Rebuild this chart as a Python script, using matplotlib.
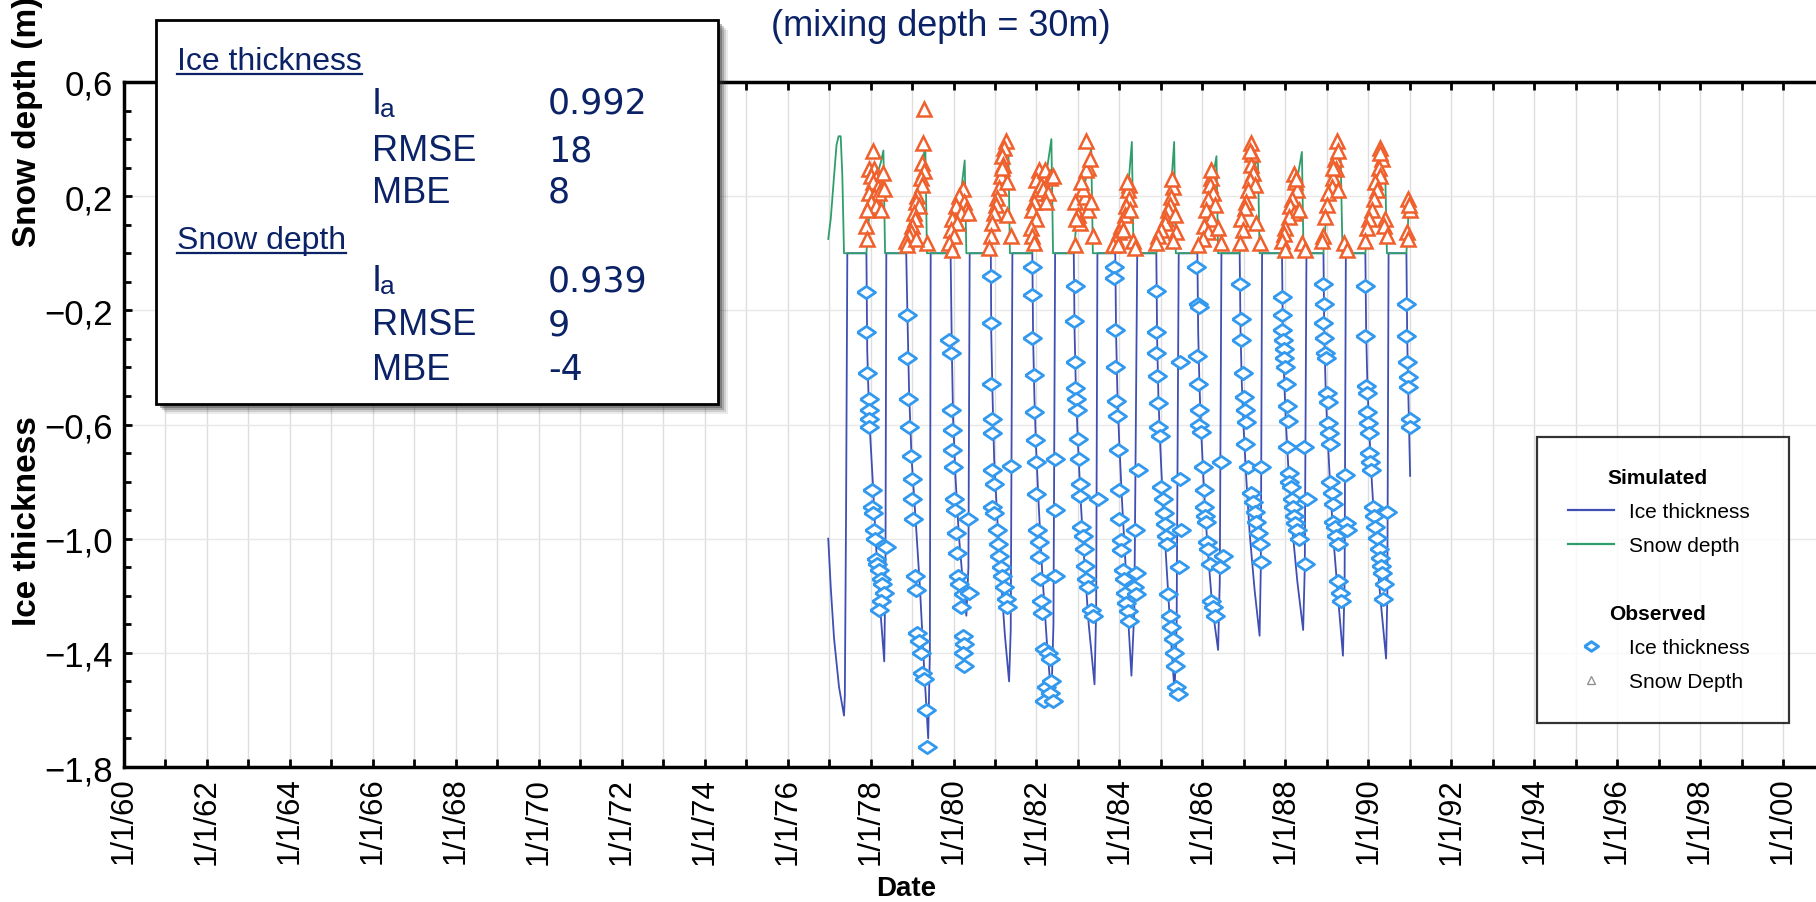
import matplotlib
matplotlib.use("Agg")
import matplotlib.pyplot as plt
from matplotlib.lines import Line2D
from matplotlib.patches import Rectangle
from matplotlib.ticker import FixedLocator, MultipleLocator, FuncFormatter

plt.rcParams['font.family'] = ['Liberation Sans', 'DejaVu Sans']
plt.rcParams['axes.unicode_minus'] = False

# ---- data (decimal year, metres) ----
sim_ice = [
    (1976.98, -1.00), (1977.04, -1.17), (1977.12, -1.35), (1977.24, -1.52), (1977.36, -1.62),
    (1977.38, -1.55), (1977.41, -0.90), (1977.44, 0.0),
    (1977.90, 0.0), (1977.92, -0.34), (1977.95, -0.49), (1977.98, -0.61), (1978.05, -0.79),
    (1978.13, -1.02), (1978.22, -1.22), (1978.33, -1.43), (1978.36, -1.10), (1978.38, 0.0),
    (1978.86, 0.0), (1978.89, -0.22), (1978.93, -0.49), (1978.99, -0.72), (1979.09, -0.94),
    (1979.19, -1.17), (1979.29, -1.45), (1979.39, -1.70), (1979.43, -1.40), (1979.45, 0.0),
    (1979.93, 0.0), (1979.96, -0.34), (1979.99, -0.58), (1980.05, -0.79), (1980.13, -0.99),
    (1980.23, -1.16), (1980.31, -1.27), (1980.36, -1.10), (1980.39, 0.0),
    (1980.90, 0.0), (1980.91, -0.28), (1980.94, -0.49), (1980.98, -0.72), (1981.06, -0.94),
    (1981.14, -1.13), (1981.24, -1.34), (1981.34, -1.50), (1981.38, -1.32), (1981.42, 0.0),
    (1981.90, 0.0), (1981.92, -0.30), (1981.95, -0.50), (1981.99, -0.68), (1982.06, -0.90),
    (1982.14, -1.12), (1982.25, -1.36), (1982.36, -1.56), (1982.41, -1.30), (1982.45, 0.0),
    (1982.90, 0.0), (1982.92, -0.28), (1982.95, -0.47), (1982.99, -0.63), (1983.06, -0.85),
    (1983.14, -1.05), (1983.26, -1.30), (1983.40, -1.51), (1983.44, -1.25), (1983.47, 0.0),
    (1983.90, 0.0), (1983.92, -0.28), (1983.95, -0.48), (1983.99, -0.64), (1984.06, -0.86),
    (1984.14, -1.07), (1984.22, -1.30), (1984.29, -1.48), (1984.36, -1.25), (1984.43, 0.0),
    (1984.89, 0.0), (1984.91, -0.30), (1984.94, -0.50), (1984.98, -0.66), (1985.05, -0.88),
    (1985.13, -1.08), (1985.23, -1.32), (1985.33, -1.54), (1985.38, -1.30), (1985.43, 0.0),
    (1985.88, 0.0), (1985.90, -0.28), (1985.93, -0.46), (1985.97, -0.62), (1986.04, -0.83),
    (1986.12, -1.02), (1986.24, -1.24), (1986.38, -1.39), (1986.42, -1.15), (1986.46, 0.0),
    (1986.90, 0.0), (1986.92, -0.27), (1986.95, -0.45), (1986.99, -0.60), (1987.06, -0.79),
    (1987.14, -0.98), (1987.26, -1.18), (1987.38, -1.34), (1987.41, -1.10), (1987.44, 0.0),
    (1987.92, 0.0), (1987.94, -0.26), (1987.97, -0.43), (1988.01, -0.58), (1988.08, -0.77),
    (1988.16, -0.95), (1988.29, -1.15), (1988.43, -1.32), (1988.47, -1.10), (1988.51, 0.0),
    (1988.92, 0.0), (1988.94, -0.28), (1988.97, -0.46), (1989.01, -0.61), (1989.08, -0.81),
    (1989.16, -1.00), (1989.28, -1.22), (1989.39, -1.41), (1989.43, -1.15), (1989.46, 0.0),
    (1989.93, 0.0), (1989.95, -0.28), (1989.98, -0.46), (1990.02, -0.61), (1990.09, -0.81),
    (1990.17, -1.00), (1990.30, -1.22), (1990.43, -1.42), (1990.46, -1.20), (1990.49, 0.0),
    (1990.92, 0.0), (1990.94, -0.30), (1990.97, -0.52), (1991.01, -0.78),
]

sim_snow = [
    (1976.98, 0.05), (1977.04, 0.12), (1977.12, 0.27), (1977.18, 0.38), (1977.23, 0.41),
    (1977.28, 0.41), (1977.32, 0.27), (1977.36, 0.0),
    (1977.90, 0.0), (1977.96, 0.12), (1978.05, 0.22), (1978.15, 0.27), (1978.25, 0.32), (1978.31, 0.36), (1978.35, 0.0),
    (1978.86, 0.0), (1978.93, 0.06), (1979.03, 0.12), (1979.13, 0.20), (1979.23, 0.29), (1979.32, 0.38), (1979.36, 0.0),
    (1979.93, 0.0), (1979.99, 0.08), (1980.07, 0.14), (1980.17, 0.20), (1980.27, 0.325), (1980.31, 0.0),
    (1980.90, 0.0), (1980.98, 0.13), (1981.06, 0.20), (1981.14, 0.27), (1981.22, 0.34), (1981.32, 0.395), (1981.36, 0.0),
    (1981.90, 0.0), (1981.96, 0.14), (1982.04, 0.22), (1982.14, 0.26), (1982.26, 0.30), (1982.36, 0.40), (1982.40, 0.0),
    (1982.90, 0.0), (1982.96, 0.10), (1983.06, 0.17), (1983.16, 0.24), (1983.26, 0.31), (1983.32, 0.37), (1983.36, 0.0),
    (1983.90, 0.0), (1983.96, 0.04), (1984.06, 0.10), (1984.16, 0.18), (1984.24, 0.28), (1984.30, 0.39), (1984.34, 0.0),
    (1984.89, 0.0), (1984.96, 0.06), (1985.06, 0.10), (1985.16, 0.16), (1985.26, 0.26), (1985.32, 0.39), (1985.36, 0.0),
    (1985.88, 0.0), (1985.96, 0.05), (1986.06, 0.10), (1986.16, 0.20), (1986.26, 0.27), (1986.34, 0.34), (1986.38, 0.0),
    (1986.90, 0.0), (1986.96, 0.08), (1987.04, 0.16), (1987.14, 0.26), (1987.24, 0.30), (1987.34, 0.33), (1987.38, 0.0),
    (1987.92, 0.0), (1987.98, 0.06), (1988.08, 0.13), (1988.18, 0.20), (1988.30, 0.27), (1988.40, 0.355), (1988.44, 0.0),
    (1988.92, 0.0), (1988.98, 0.12), (1989.06, 0.20), (1989.16, 0.27), (1989.26, 0.33), (1989.33, 0.37), (1989.38, 0.0),
    (1989.93, 0.0), (1989.99, 0.09), (1990.09, 0.15), (1990.19, 0.22), (1990.31, 0.27), (1990.41, 0.28), (1990.45, 0.0),
    (1990.92, 0.0), (1990.95, 0.08), (1990.98, 0.17), (1991.01, 0.195),
]

obs_ice = [
    (1977.90, -0.135), (1977.90, -0.275), (1977.92, -0.42), (1977.96, -0.51), (1977.96, -0.55),
    (1977.96, -0.58), (1977.96, -0.61), (1978.03, -0.83), (1978.04, -0.89), (1978.06, -0.91),
    (1978.08, -0.97), (1978.10, -1.00), (1978.12, -1.07), (1978.16, -1.09), (1978.20, -1.11),
    (1978.24, -1.14), (1978.28, -1.16), (1978.32, -1.19), (1978.24, -1.22), (1978.20, -1.25), (1978.37, -1.03),
    (1978.89, -0.215), (1978.89, -0.367), (1978.91, -0.51), (1978.93, -0.61), (1978.97, -0.71),
    (1978.99, -0.79), (1979.01, -0.86), (1979.03, -0.93), (1979.07, -1.13), (1979.09, -1.18),
    (1979.13, -1.33), (1979.17, -1.36), (1979.21, -1.40), (1979.25, -1.47), (1979.29, -1.49),
    (1979.33, -1.60), (1979.37, -1.73),
    (1979.89, -0.305), (1979.93, -0.35), (1979.93, -0.55), (1979.97, -0.62), (1979.97, -0.69),
    (1979.99, -0.75), (1980.01, -0.86), (1980.04, -0.90), (1980.05, -0.98), (1980.09, -1.05),
    (1980.12, -1.13), (1980.13, -1.16), (1980.22, -1.195), (1980.18, -1.24), (1980.34, -0.93),
    (1980.38, -1.19), (1980.22, -1.34), (1980.26, -1.37), (1980.22, -1.40), (1980.26, -1.445),
    (1980.90, -0.078), (1980.90, -0.245), (1980.90, -0.458), (1980.92, -0.58), (1980.94, -0.63),
    (1980.94, -0.76), (1980.98, -0.81), (1980.94, -0.89), (1980.98, -0.91), (1981.06, -0.97),
    (1981.08, -1.02), (1981.10, -1.06), (1981.14, -1.10), (1981.18, -1.13), (1981.22, -1.17),
    (1981.26, -1.21), (1981.30, -1.24), (1981.38, -0.745),
    (1981.90, -0.047), (1981.90, -0.146), (1981.90, -0.298), (1981.94, -0.427), (1981.94, -0.556),
    (1981.97, -0.655), (1981.98, -0.73), (1981.98, -0.845), (1982.02, -0.97), (1982.05, -1.01),
    (1982.06, -1.065), (1982.08, -1.14), (1982.10, -1.22), (1982.14, -1.26), (1982.18, -1.385),
    (1982.22, -1.52), (1982.18, -1.57), (1982.44, -0.72), (1982.44, -0.90), (1982.44, -1.13),
    (1982.28, -1.40), (1982.32, -1.42), (1982.36, -1.50), (1982.33, -1.54), (1982.40, -1.57),
    (1982.92, -0.116), (1982.90, -0.237), (1982.92, -0.38), (1982.94, -0.473), (1982.96, -0.51),
    (1982.98, -0.55), (1983.00, -0.65), (1983.02, -0.72), (1983.04, -0.81), (1983.06, -0.85),
    (1983.08, -0.96), (1983.12, -0.99), (1983.14, -1.035), (1983.16, -1.095), (1983.20, -1.14),
    (1983.24, -1.17), (1983.32, -1.25), (1983.36, -1.27), (1983.48, -0.86),
    (1983.88, -0.047), (1983.88, -0.085), (1983.90, -0.268), (1983.90, -0.40), (1983.92, -0.518),
    (1983.95, -0.57), (1983.96, -0.69), (1983.98, -0.83), (1984.00, -0.93), (1984.03, -1.005),
    (1984.04, -1.04), (1984.08, -1.11), (1984.11, -1.14), (1984.13, -1.19), (1984.17, -1.225),
    (1984.21, -1.255), (1984.22, -1.29), (1984.45, -0.76), (1984.37, -0.97), (1984.41, -1.12),
    (1984.35, -1.17), (1984.41, -1.195),
    (1984.89, -0.131), (1984.89, -0.275), (1984.89, -0.35), (1984.91, -0.43), (1984.93, -0.526),
    (1984.93, -0.61), (1984.97, -0.64), (1985.01, -0.82), (1985.05, -0.86), (1985.07, -0.91),
    (1985.11, -0.95), (1985.13, -0.99), (1985.15, -1.02), (1985.17, -1.195), (1985.21, -1.27),
    (1985.25, -1.31), (1985.29, -1.35), (1985.32, -1.40), (1985.33, -1.445), (1985.37, -1.52),
    (1985.41, -1.545), (1985.45, -0.38), (1985.45, -0.79), (1985.48, -0.97), (1985.43, -1.10),
    (1985.85, -0.047), (1985.89, -0.177), (1985.91, -0.19), (1985.88, -0.36), (1985.89, -0.458),
    (1985.91, -0.55), (1985.93, -0.60), (1985.96, -0.625), (1986.01, -0.75), (1986.04, -0.83),
    (1986.05, -0.89), (1986.07, -0.92), (1986.09, -0.94), (1986.12, -1.01), (1986.13, -1.035),
    (1986.18, -1.088), (1986.22, -1.22), (1986.26, -1.24), (1986.30, -1.27), (1986.46, -0.73),
    (1986.50, -1.06), (1986.42, -1.10),
    (1986.90, -0.108), (1986.94, -0.23), (1986.92, -0.305), (1986.98, -0.42), (1987.00, -0.503),
    (1987.02, -0.55), (1987.06, -0.59), (1987.04, -0.67), (1987.10, -0.75), (1987.18, -0.84),
    (1987.22, -0.87), (1987.26, -0.905), (1987.30, -0.94), (1987.34, -0.98), (1987.38, -1.02),
    (1987.42, -0.75), (1987.42, -1.08),
    (1987.92, -0.154), (1987.92, -0.215), (1987.92, -0.268), (1987.94, -0.305), (1987.96, -0.336),
    (1987.98, -0.367), (1988.00, -0.397), (1988.02, -0.458), (1988.04, -0.534), (1988.06, -0.587),
    (1988.04, -0.68), (1988.08, -0.77), (1988.10, -0.80), (1988.14, -0.82), (1988.16, -0.86),
    (1988.18, -0.89), (1988.20, -0.92), (1988.24, -0.944), (1988.28, -0.97), (1988.32, -1.00),
    (1988.44, -0.68), (1988.52, -0.86), (1988.48, -1.09),
    (1988.92, -0.108), (1988.94, -0.177), (1988.92, -0.245), (1988.94, -0.298), (1988.96, -0.35),
    (1988.99, -0.367), (1989.00, -0.488), (1989.02, -0.52), (1989.04, -0.595), (1989.06, -0.63),
    (1989.08, -0.67), (1989.08, -0.80), (1989.12, -0.84), (1989.14, -0.88), (1989.16, -0.94),
    (1989.20, -0.96), (1989.23, -0.99), (1989.26, -1.02), (1989.28, -1.15), (1989.31, -1.19),
    (1989.34, -1.22), (1989.45, -0.777), (1989.47, -0.944), (1989.49, -0.97),
    (1989.93, -0.116), (1989.93, -0.29), (1989.95, -0.465), (1989.97, -0.488), (1989.97, -0.556),
    (1989.99, -0.595), (1990.01, -0.63), (1990.01, -0.70), (1990.05, -0.73), (1990.07, -0.76),
    (1990.11, -0.89), (1990.13, -0.92), (1990.17, -0.96), (1990.21, -0.997), (1990.25, -1.035),
    (1990.29, -1.066), (1990.31, -1.096), (1990.33, -1.12), (1990.37, -1.16), (1990.36, -1.21),
    (1990.45, -0.905),
    (1990.92, -0.177), (1990.92, -0.29), (1990.93, -0.38), (1990.95, -0.435), (1990.95, -0.47),
    (1991.00, -0.58), (1991.00, -0.61),
]

obs_snow = [
    (1978.05, 0.36), (1977.96, 0.295), (1978.09, 0.295), (1978.00, 0.27), (1978.13, 0.264),
    (1978.05, 0.25), (1978.17, 0.233), (1977.96, 0.21), (1978.09, 0.20), (1978.21, 0.21),
    (1978.00, 0.18), (1978.13, 0.165), (1977.92, 0.15), (1978.25, 0.15), (1977.88, 0.097),
    (1977.92, 0.05), (1978.33, 0.225), (1978.29, 0.28),
    (1979.29, 0.507), (1979.27, 0.385), (1979.25, 0.317), (1979.29, 0.287), (1979.21, 0.264),
    (1979.23, 0.24), (1979.13, 0.20), (1979.09, 0.18), (1979.17, 0.165), (1979.05, 0.14),
    (1979.07, 0.12), (1979.01, 0.097), (1978.97, 0.074), (1978.93, 0.059), (1978.85, 0.044),
    (1978.89, 0.028), (1979.37, 0.036), (1979.09, 0.05),
    (1980.22, 0.226), (1980.13, 0.20), (1980.26, 0.18), (1980.05, 0.165), (1980.30, 0.15),
    (1980.18, 0.14), (1979.97, 0.12), (1980.09, 0.105), (1979.93, 0.082), (1980.01, 0.059),
    (1979.89, 0.036), (1979.97, 0.013), (1980.34, 0.14),
    (1981.26, 0.395), (1981.22, 0.37), (1981.18, 0.34), (1981.20, 0.31), (1981.14, 0.27),
    (1981.10, 0.23), (1981.06, 0.195), (1981.02, 0.17), (1980.98, 0.14), (1980.94, 0.105),
    (1980.90, 0.059), (1980.86, 0.02), (1981.30, 0.135), (1981.38, 0.059), (1981.28, 0.25), (1981.16, 0.30),
    (1982.06, 0.29), (1981.98, 0.256), (1982.02, 0.21), (1981.94, 0.18), (1981.90, 0.15),
    (1981.98, 0.12), (1981.86, 0.09), (1981.90, 0.06), (1981.94, 0.036), (1982.10, 0.24),
    (1982.20, 0.29), (1982.32, 0.264), (1982.40, 0.27), (1982.16, 0.226), (1982.28, 0.21), (1982.24, 0.18),
    (1983.20, 0.393), (1983.24, 0.30), (1983.20, 0.29), (1982.92, 0.18), (1983.00, 0.135),
    (1983.04, 0.105), (1983.16, 0.196), (1983.24, 0.15), (1983.36, 0.059), (1982.92, 0.028),
    (1982.96, 0.12), (1983.32, 0.18), (1983.12, 0.226), (1983.28, 0.33), (1983.08, 0.25),
    (1984.23, 0.24), (1984.21, 0.22), (1984.22, 0.19), (1984.17, 0.165), (1984.13, 0.135),
    (1984.04, 0.097), (1984.00, 0.074), (1983.92, 0.05), (1983.84, 0.028), (1983.96, 0.028),
    (1984.08, 0.08), (1984.33, 0.044), (1984.37, 0.02), (1984.26, 0.15), (1984.19, 0.25),
    (1985.29, 0.233), (1985.25, 0.196), (1985.21, 0.17), (1985.17, 0.15), (1985.13, 0.12),
    (1985.09, 0.105), (1985.01, 0.082), (1984.93, 0.059), (1984.89, 0.036), (1985.33, 0.135),
    (1985.37, 0.074), (1985.29, 0.044), (1985.27, 0.26),
    (1986.22, 0.264), (1986.18, 0.24), (1986.26, 0.21), (1986.13, 0.19), (1986.30, 0.17),
    (1986.09, 0.15), (1986.22, 0.12), (1986.05, 0.097), (1986.13, 0.074), (1986.01, 0.05),
    (1985.89, 0.028), (1986.38, 0.09), (1986.46, 0.036), (1986.20, 0.29),
    (1987.18, 0.385), (1987.20, 0.347), (1987.17, 0.31), (1987.22, 0.28), (1987.14, 0.256),
    (1987.26, 0.24), (1987.10, 0.22), (1987.06, 0.18), (1987.02, 0.16), (1986.94, 0.12),
    (1986.98, 0.082), (1986.90, 0.036), (1987.30, 0.105), (1987.38, 0.036), (1987.16, 0.36),
    (1988.20, 0.279), (1988.24, 0.25), (1988.28, 0.22), (1988.16, 0.19), (1988.12, 0.165),
    (1988.20, 0.14), (1988.08, 0.127), (1988.00, 0.09), (1987.96, 0.066), (1987.92, 0.044),
    (1988.00, 0.013), (1988.40, 0.036), (1988.48, 0.013), (1988.32, 0.15), (1988.27, 0.26),
    (1989.25, 0.393), (1989.20, 0.33), (1989.23, 0.295), (1989.16, 0.264), (1989.12, 0.233),
    (1989.04, 0.21), (1989.00, 0.17), (1988.96, 0.127), (1988.92, 0.059), (1988.88, 0.044),
    (1989.41, 0.036), (1989.49, 0.013), (1989.28, 0.22), (1989.26, 0.36), (1989.16, 0.30),
    (1990.29, 0.37), (1990.33, 0.33), (1990.25, 0.30), (1990.29, 0.27), (1990.17, 0.25),
    (1990.21, 0.22), (1990.13, 0.19), (1990.09, 0.15), (1990.01, 0.12), (1989.97, 0.09),
    (1989.93, 0.044), (1990.41, 0.12), (1990.37, 0.097), (1990.45, 0.059), (1990.28, 0.35),
    (1990.97, 0.19), (1991.00, 0.15), (1990.93, 0.074), (1990.95, 0.05), (1990.99, 0.17),
]

years = list(range(1960, 2001))
y_major = [0.6, 0.2, -0.2, -0.6, -1.0, -1.4, -1.8]

stats_ice = [("RMSE", "18"), ("MBE", "8")]
stats_snow = [("RMSE", "9"), ("MBE", "-4")]
ia_ice = "0.992"
ia_snow = "0.939"

W, H = 1816, 903
navy = "#0b2366"
c_ice = "#3f4fb3"
c_snow = "#2f9e6c"
c_dia = "#3399ee"
c_tri = "#f0602c"

fig = plt.figure(figsize=(W / 100, H / 100), dpi=100)
ax = fig.add_axes([124 / W, 1 - 768 / H, 41.2 * 41.475 / W, (768 - 83) / H])

def fx(x):
    return x / W

def fy(y):
    return 1 - y / H

# simulated lines
ax.plot([p[0] for p in sim_ice], [p[1] for p in sim_ice], color=c_ice, lw=1.3, zorder=3)
ax.plot([p[0] for p in sim_snow], [p[1] for p in sim_snow], color=c_snow, lw=1.3, zorder=4)

diamond = [(-1, 0), (0, 0.68), (1, 0), (0, -0.68), (-1, 0)]
ax.plot([p[0] for p in obs_ice], [p[1] for p in obs_ice], ls="none", marker=diamond,
        markersize=13, mfc="white", mec=c_dia, mew=2.0, zorder=5)
ax.plot([p[0] for p in obs_snow], [p[1] for p in obs_snow], ls="none", marker="^",
        markersize=10, mfc="white", mec=c_tri, mew=1.8, zorder=6)

ax.set_xlim(1960, 2001.2)
ax.set_ylim(-1.8, 0.6)

ax.xaxis.set_major_locator(FixedLocator(years))
ax.xaxis.set_major_formatter(FuncFormatter(
    lambda v, pos: "1/1/%02d" % (int(round(v)) % 100) if int(round(v)) % 2 == 0 else ""))
ax.yaxis.set_major_locator(FixedLocator(y_major))
ax.yaxis.set_minor_locator(MultipleLocator(0.1))
ax.yaxis.set_major_formatter(FuncFormatter(
    lambda v, pos: ("%.1f" % v).replace(".", ",").replace("-", "\u2212")))

ax.tick_params(axis="x", which="major", direction="in", length=6, width=2, top=True,
               labelsize=22.5, pad=7, labelrotation=90)
ax.tick_params(axis="y", which="major", direction="in", length=6, width=2, labelsize=25, pad=8)
ax.tick_params(axis="y", which="minor", direction="in", length=5, width=2)

ax.grid(axis="x", color="#dedede", lw=1.0, zorder=0)
ax.grid(axis="y", color="#e8e8e8", lw=1.0, zorder=0)
for s in ["left", "bottom", "top"]:
    ax.spines[s].set_linewidth(2.5)
ax.spines["right"].set_visible(False)

# axis labels
fig.text(fx(906), fy(889), "Date", ha="center", va="center", fontsize=20, weight="bold")
fig.text(fx(28), fy(122), "Snow depth (m)", rotation=90, ha="center", va="center",
         fontsize=24, weight="bold")
fig.text(fx(28), fy(521), "Ice thickness", rotation=90, ha="center", va="center",
         fontsize=24, weight="bold")

fig.text(fx(941), fy(26), "(mixing depth = 30m)", ha="center", va="center",
         fontsize=26, color=navy)

# statistics box with shadow
bx0, by0, bx1, by1 = 156, 21, 718, 405
for off, a in [(10, 0.10), (8, 0.15), (6, 0.25), (4, 0.35)]:
    fig.patches.append(Rectangle((fx(bx0 + off), fy(by1 + off)), (bx1 - bx0) / W, (by1 - by0) / H,
                                 transform=fig.transFigure, facecolor="#333333", alpha=a,
                                 edgecolor="none", zorder=10))
fig.patches.append(Rectangle((fx(bx0), fy(by1)), (bx1 - bx0) / W, (by1 - by0) / H,
                             transform=fig.transFigure, facecolor="white", edgecolor="black",
                             lw=2, zorder=11))

fs = 26
baselines = [70, 114, 161, 203, 249, 291, 335, 380]
num_font = ['DejaVu Sans']

def header(y, s):
    t = fig.text(fx(177), fy(y), s, ha="left", va="baseline", fontsize=23, color=navy, zorder=12)
    fig.canvas.draw()
    bb = t.get_window_extent()
    fig.add_artist(Line2D([bb.x0 / W, bb.x1 / W], [fy(y + 5), fy(y + 5)],
                          transform=fig.transFigure, color=navy, lw=1.6, zorder=12))

def ia_row(y, val):
    fig.text(fx(372), fy(y), "I", ha="left", va="baseline", fontsize=fs, color=navy, zorder=12)
    fig.text(fx(380), fy(y + 3), "a", ha="left", va="baseline", fontsize=19, color=navy, zorder=12)
    fig.text(fx(548), fy(y), val, ha="left", va="baseline", fontsize=25, color=navy, zorder=12,
             family=num_font)

def stat_row(y, name, val):
    fig.text(fx(372), fy(y), name, ha="left", va="baseline", fontsize=fs, color=navy, zorder=12)
    fig.text(fx(548), fy(y), val, ha="left", va="baseline", fontsize=25, color=navy, zorder=12,
             family=num_font)

header(baselines[0], "Ice thickness")
ia_row(baselines[1], ia_ice)
for b, (n, v) in zip(baselines[2:4], stats_ice):
    stat_row(b, n, v)
header(baselines[4], "Snow depth")
ia_row(baselines[5], ia_snow)
for b, (n, v) in zip(baselines[6:8], stats_snow):
    stat_row(b, n, v)

# legend
blank = Line2D([], [], ls="none")
handles = [blank,
           Line2D([], [], color=c_ice, lw=1.6),
           Line2D([], [], color=c_snow, lw=1.6),
           blank, blank,
           Line2D([], [], ls="none", marker=diamond, markersize=10, mfc="white", mec=c_dia, mew=2.2),
           Line2D([], [], ls="none", marker="^", markersize=6, mfc="white", mec="#8a8a8a", mew=0.9)]
labels = [" ", "Ice thickness", "Snow depth", " ", " ", "Ice thickness", "Snow Depth"]
leg = fig.legend(handles, labels, loc="upper left",
                 bbox_to_anchor=(fx(1537), fy(438) - 0.3, (1789 - 1537) / W, 0.3),
                 mode="expand", fontsize=15, frameon=True, fancybox=False, edgecolor="black",
                 handlelength=2.2, handletextpad=0.7, labelspacing=0.72, borderpad=1.5,
                 borderaxespad=0)
leg.get_frame().set_linewidth(1.6)
fig.canvas.draw()
for i, s in [(0, "Simulated"), (4, "Observed")]:
    bb = leg.get_texts()[i].get_window_extent()
    fig.text(fx(1657), (bb.y0 + bb.y1) / 2 / H, s, ha="center", va="center",
             fontsize=15, weight="bold", zorder=20)

fig.savefig("out.png", dpi=100)
